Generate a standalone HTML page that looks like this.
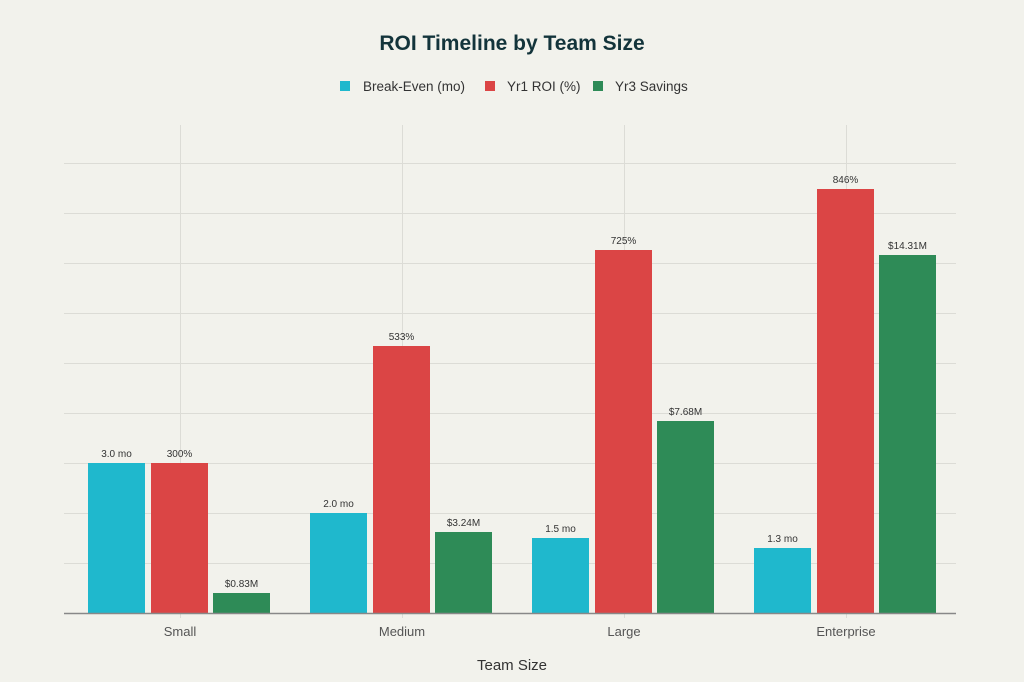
<!DOCTYPE html>
<html><head><meta charset="utf-8"><style>
body{margin:0;background:#f2f2ec;}
svg{display:block;font-family:"Liberation Sans",sans-serif;}
</style></head><body>
<svg width="1024" height="682" viewBox="0 0 1024 682">
<rect width="1024" height="682" fill="#f2f2ec"/>
<text x="512" y="50" text-anchor="middle" font-size="21" font-weight="bold" fill="#13343b">ROI Timeline by Team Size</text>
<g font-size="13.5" fill="#333">
<rect x="340" y="81" width="10" height="10" fill="#1fb8cd"/><text x="363" y="91">Break-Even (mo)</text>
<rect x="485" y="81" width="10" height="10" fill="#db4545"/><text x="507" y="91">Yr1 ROI (%)</text>
<rect x="593" y="81" width="10" height="10" fill="#2e8b57"/><text x="615" y="91">Yr3 Savings</text>
</g>
<g stroke="#dcdcd6" stroke-width="1">
<line x1="64" x2="956" y1="163.5" y2="163.5"/><line x1="64" x2="956" y1="213.5" y2="213.5"/>
<line x1="64" x2="956" y1="263.5" y2="263.5"/><line x1="64" x2="956" y1="313.5" y2="313.5"/>
<line x1="64" x2="956" y1="363.5" y2="363.5"/><line x1="64" x2="956" y1="413.5" y2="413.5"/>
<line x1="64" x2="956" y1="463.5" y2="463.5"/><line x1="64" x2="956" y1="513.5" y2="513.5"/>
<line x1="64" x2="956" y1="563.5" y2="563.5"/>
<line x1="180.5" x2="180.5" y1="125" y2="618"/><line x1="402.5" x2="402.5" y1="125" y2="618"/>
<line x1="624.5" x2="624.5" y1="125" y2="618"/><line x1="846.5" x2="846.5" y1="125" y2="618"/>
</g>
<g>
<rect x="88" y="463" width="57" height="150" fill="#1fb8cd"/>
<rect x="151" y="463" width="57" height="150" fill="#db4545"/>
<rect x="213" y="593" width="57" height="20" fill="#2e8b57"/>
<rect x="310" y="513" width="57" height="100" fill="#1fb8cd"/>
<rect x="373" y="346" width="57" height="267" fill="#db4545"/>
<rect x="435" y="532" width="57" height="81" fill="#2e8b57"/>
<rect x="532" y="538" width="57" height="75" fill="#1fb8cd"/>
<rect x="595" y="250" width="57" height="363" fill="#db4545"/>
<rect x="657" y="421" width="57" height="192" fill="#2e8b57"/>
<rect x="754" y="548" width="57" height="65" fill="#1fb8cd"/>
<rect x="817" y="189" width="57" height="424" fill="#db4545"/>
<rect x="879" y="255" width="57" height="358" fill="#2e8b57"/>
</g>
<line x1="64" x2="956" y1="613.5" y2="613.5" stroke="#888" stroke-width="1.5"/>
<g font-size="10" fill="#333" text-anchor="middle">
<text x="116.5" y="457">3.0 mo</text><text x="179.5" y="457">300%</text><text x="241.5" y="587">$0.83M</text>
<text x="338.5" y="507">2.0 mo</text><text x="401.5" y="340">533%</text><text x="463.5" y="526">$3.24M</text>
<text x="560.5" y="532">1.5 mo</text><text x="623.5" y="244">725%</text><text x="685.5" y="415">$7.68M</text>
<text x="782.5" y="542">1.3 mo</text><text x="845.5" y="183">846%</text><text x="907.5" y="249">$14.31M</text>
</g>
<g font-size="13" fill="#555" text-anchor="middle">
<text x="180" y="636">Small</text><text x="402" y="636">Medium</text><text x="624" y="636">Large</text><text x="846" y="636">Enterprise</text>
</g>
<text x="512" y="670" text-anchor="middle" font-size="15" fill="#333">Team Size</text>
</svg>
</body></html>
